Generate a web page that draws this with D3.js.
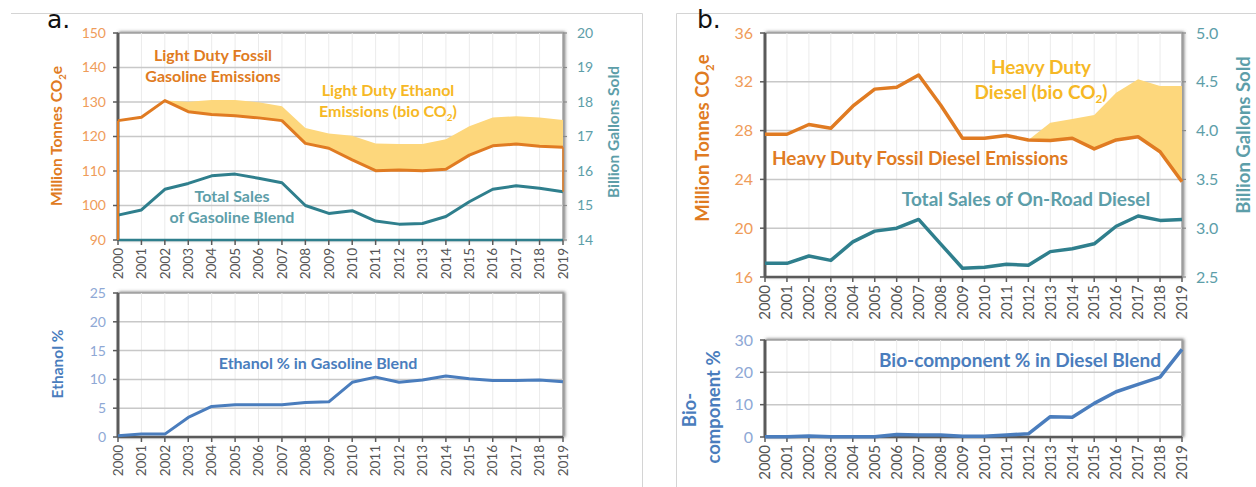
<!DOCTYPE html>
<html>
<head>
<meta charset="utf-8">
<script src="https://cdn.jsdelivr.net/npm/d3@7"></script>
<style>
  body { margin: 0; background: #fff; }
  svg { display: block; font-family: Lato, 'Open Sans', sans-serif; }
</style>
</head>
<body>
<div id="root"></div>
<script>
const W = 1256;
const H = 487;

const ORANGE = '#e07b22';
const ORANGE_LIGHT = '#ef9c5a';
const YELLOW_FILL = '#fdd77c';
const YELLOW_TEXT = '#f6b825';
const TEAL = '#2f7f8d';
const TEAL_LIGHT = '#5d9ea9';
const BLUE = '#4a7dbd';
const BLUE_LIGHT = '#8ea8d5';

// categories
const years = [2000, 2001, 2002, 2003, 2004, 2005, 2006, 2007, 2008, 2009,
  2010, 2011, 2012, 2013, 2014, 2015, 2016, 2017, 2018, 2019];

// panel a: light duty gasoline
const gasFossil = [124.6, 125.6, 130.4, 127.2, 126.4, 126.0, 125.4, 124.6, 118.0, 116.6,
  113.2, 110.1, 110.3, 110.1, 110.5, 114.6, 117.3, 117.8, 117.2, 116.9];
const gasEthanolTop = [124.6, 125.6, 130.4, 130.1, 130.6, 130.6, 129.9, 128.8, 122.5, 120.9,
  120.2, 118.0, 117.8, 117.8, 119.2, 123.0, 125.5, 125.9, 125.5, 124.8];
const gasSales = [14.72, 14.87, 15.47, 15.64, 15.86, 15.91, 15.79, 15.66, 15.0, 14.77,
  14.85, 14.55, 14.46, 14.48, 14.68, 15.11, 15.47, 15.57, 15.50, 15.40];
const ethanolPct = [0.2, 0.5, 0.5, 3.4, 5.3, 5.6, 5.6, 5.6, 6.0, 6.1,
  9.5, 10.4, 9.5, 9.9, 10.6, 10.1, 9.8, 9.8, 9.9, 9.6];

// panel b: heavy duty diesel
const dieselFossil = [27.7, 27.7, 28.5, 28.2, 30.0, 31.4, 31.55, 32.56, 30.1, 27.37,
  27.37, 27.6, 27.23, 27.18, 27.37, 26.5, 27.23, 27.5, 26.27, 23.8];
const dieselBioTop = [null, null, null, null, null, null, null, null, null, null,
  null, null, 27.23, 28.65, 28.95, 29.28, 31.1, 32.2, 31.66, 31.66];
const dieselSales = [2.64, 2.64, 2.715, 2.67, 2.86, 2.97, 3.0, 3.09, 2.84, 2.59,
  2.6, 2.63, 2.62, 2.76, 2.79, 2.84, 3.02, 3.125, 3.08, 3.09];
const bioPct = [0.1, 0.1, 0.3, 0.1, 0.1, 0.1, 0.8, 0.6, 0.6, 0.2,
  0.2, 0.6, 1.0, 6.3, 6.1, 10.4, 14.0, 16.3, 18.5, 27.1];

// tick labels
const gasTicks = [90, 100, 110, 120, 130, 140, 150];
const gasSalesTicks = [14, 15, 16, 17, 18, 19, 20];
const ethanolTicks = [0, 5, 10, 15, 20, 25];
const dieselTicks = [16, 20, 24, 28, 32, 36];
const dieselSalesTicks = [2.5, 3.0, 3.5, 4.0, 4.5, 5.0];
const bioTicks = [0, 10, 20, 30];

const svg = d3.select('#root').append('svg').attr('width', W).attr('height', H);

const defs = svg.append('defs');
defs.append('filter')
  .attr('id', 'shadow')
  .attr('x', '-5%').attr('y', '-10%').attr('width', '110%').attr('height', '120%')
  .append('feDropShadow')
  .attr('dx', 1.5).attr('dy', -0.5).attr('stdDeviation', 1.8)
  .attr('flood-color', '#666').attr('flood-opacity', 0.85);

// panel boxes
svg.append('path').attr('d', 'M11,13.5 H642.5 V487').attr('fill', 'none').attr('stroke', '#d4d4d4');
svg.append('path').attr('d', 'M676.5,487 V13.5 H1256').attr('fill', 'none').attr('stroke', '#d4d4d4');

svg.append('text').attr('x', 47).attr('y', 28).attr('font-family', 'DejaVu Sans')
  .attr('font-size', 25).attr('fill', '#111').text('a.');
svg.append('text').attr('x', 697).attr('y', 28).attr('font-family', 'DejaVu Sans')
  .attr('font-size', 25).attr('fill', '#111').text('b.');

const isSub = (part) => typeof part === 'object';

// one plot area with frame, grid, year axis and left ticks
function addPlot(opts) {
  const g = svg.append('g');
  const x = d3.scalePoint().domain(years).range([opts.x0, opts.x1]);
  const y = d3.scaleLinear().domain(opts.yDomain).range([opts.yBot, opts.yTop]);

  g.append('rect')
    .attr('x', opts.x0).attr('y', opts.yTop)
    .attr('width', opts.x1 - opts.x0).attr('height', opts.yBot - opts.yTop)
    .attr('fill', '#fff').attr('stroke', '#a0a0a0').attr('stroke-width', 1.5)
    .attr('filter', 'url(#shadow)');

  g.append('g').selectAll('line')
    .data(years.slice(1, -1))
    .enter()
    .append('line')
    .attr('x1', (d) => x(d)).attr('x2', (d) => x(d))
    .attr('y1', opts.yTop).attr('y2', opts.yBot)
    .attr('stroke', '#ebebeb').attr('stroke-width', 1);

  g.append('g').selectAll('line')
    .data(opts.ticks.slice(1, -1))
    .enter()
    .append('line')
    .attr('x1', opts.x0).attr('x2', opts.x1)
    .attr('y1', (d) => y(d)).attr('y2', (d) => y(d))
    .attr('stroke', '#c8c8c8').attr('stroke-width', 1.5);

  // left axis
  g.append('line')
    .attr('x1', opts.x0).attr('x2', opts.x0)
    .attr('y1', opts.yTop).attr('y2', opts.yBot)
    .attr('stroke', '#5a5a5a').attr('stroke-width', 3);
  g.append('g').selectAll('line')
    .data(opts.ticks)
    .enter()
    .append('line')
    .attr('x1', opts.x0 - 5).attr('x2', opts.x0)
    .attr('y1', (d) => y(d)).attr('y2', (d) => y(d))
    .attr('stroke', '#5a5a5a').attr('stroke-width', 1.5);
  g.append('g').selectAll('text')
    .data(opts.ticks)
    .enter()
    .append('text')
    .attr('x', opts.x0 - 12).attr('y', (d) => y(d))
    .attr('dy', '0.35em')
    .attr('text-anchor', 'end')
    .attr('font-size', opts.tickSize)
    .attr('fill', opts.tickColor)
    .text((d) => (opts.tickFormat ? opts.tickFormat(d) : d));

  // bottom axis
  g.append('line')
    .attr('x1', opts.x0).attr('x2', opts.x1)
    .attr('y1', opts.yBot).attr('y2', opts.yBot)
    .attr('stroke', opts.baseColor || '#5a5a5a').attr('stroke-width', 2.5);
  g.append('g').selectAll('line')
    .data(years)
    .enter()
    .append('line')
    .attr('x1', (d) => x(d)).attr('x2', (d) => x(d))
    .attr('y1', opts.yBot).attr('y2', opts.yBot + 5)
    .attr('stroke', '#5a5a5a').attr('stroke-width', 1.5);
  g.append('g').selectAll('text')
    .data(years)
    .enter()
    .append('text')
    .attr('transform', (d) => `translate(${x(d)},${opts.yBot + 8}) rotate(-90)`)
    .attr('dy', '0.35em')
    .attr('text-anchor', 'end')
    .attr('font-size', opts.yearSize)
    .attr('fill', '#555')
    .text((d) => d);

  return { g, x, y };
}

function addRightAxis(plot, opts) {
  const y2 = d3.scaleLinear().domain(opts.domain).range([opts.yBot, opts.yTop]);
  plot.g.append('g').selectAll('line')
    .data(opts.ticks)
    .enter()
    .append('line')
    .attr('x1', opts.x1).attr('x2', opts.x1 + 4)
    .attr('y1', (d) => y2(d)).attr('y2', (d) => y2(d))
    .attr('stroke', '#8a8a8a').attr('stroke-width', 1.2);
  plot.g.append('g').selectAll('text')
    .data(opts.ticks)
    .enter()
    .append('text')
    .attr('x', opts.x1 + 14).attr('y', (d) => y2(d))
    .attr('dy', '0.35em')
    .attr('font-size', opts.tickSize)
    .attr('fill', opts.tickColor)
    .text((d) => (opts.tickFormat ? opts.tickFormat(d) : d));
  return y2;
}

function addLine(plot, values, yScale, color, width) {
  const line = d3.line()
    .defined((d) => d != null)
    .x((d, i) => plot.x(years[i]))
    .y((d) => yScale(d));
  plot.g.append('path')
    .datum(values)
    .attr('d', line)
    .attr('fill', 'none')
    .attr('stroke', color)
    .attr('stroke-width', width)
    .attr('stroke-linejoin', 'round');
}

function addBand(plot, low, high, yScale) {
  const idx = years.map((d, i) => i).filter((i) => high[i] != null);
  const area = d3.area()
    .x((i) => plot.x(years[i]))
    .y0((i) => yScale(low[i]))
    .y1((i) => yScale(high[i]));
  plot.g.append('path')
    .datum(idx)
    .attr('d', area)
    .attr('fill', YELLOW_FILL);
}

// plain strings plus {sub: '2'} pieces for subscripts
function appendParts(el, parts, size) {
  const shift = size * 0.22;
  let lowered = false;
  parts.forEach((part) => {
    if (isSub(part)) {
      el.append('tspan').attr('font-size', size * 0.62).attr('dy', shift).text(part.sub);
      lowered = true;
    } else {
      const span = el.append('tspan').text(part);
      if (lowered) span.attr('dy', -shift);
      lowered = false;
    }
  });
}

function addLabel(x, y, lines, color, size) {
  const t = svg.append('text')
    .attr('x', x).attr('y', y)
    .attr('text-anchor', 'middle')
    .attr('font-size', size)
    .attr('font-weight', 'bold')
    .attr('fill', color);
  lines.forEach((ln, k) => {
    const span = t.append('tspan').attr('x', x).attr('y', y + k * size * 1.33);
    appendParts(span, ln, size);
  });
  return t;
}

function addVerticalTitle(x, y, parts, color, size) {
  const t = svg.append('text')
    .attr('transform', `translate(${x},${y}) rotate(-90)`)
    .attr('text-anchor', 'middle')
    .attr('dy', '0.35em')
    .attr('font-size', size)
    .attr('font-weight', 'bold')
    .attr('fill', color);
  appendParts(t, parts, size);
}

// ---------- panel a, emissions ----------
const aTop = addPlot({
  x0: 118, x1: 563, yTop: 33, yBot: 240,
  yDomain: [90, 150], ticks: gasTicks,
  tickSize: 14, tickColor: ORANGE_LIGHT, yearSize: 13.5, baseColor: TEAL,
});
const aSalesY = addRightAxis(aTop, {
  x1: 563, yTop: 33, yBot: 240, domain: [14, 20], ticks: gasSalesTicks,
  tickSize: 14, tickColor: TEAL_LIGHT,
});
addBand(aTop, gasFossil, gasEthanolTop, aTop.y);
addLine(aTop, gasSales, aSalesY, TEAL, 3);
// fossil line, with its edges dropping down at both ends
aTop.g.append('line')
  .attr('x1', aTop.x(years[0])).attr('x2', aTop.x(years[0]))
  .attr('y1', aTop.y(gasFossil[0])).attr('y2', aTop.y(90))
  .attr('stroke', ORANGE).attr('stroke-width', 2);
aTop.g.append('line')
  .attr('x1', aTop.x(years[19])).attr('x2', aTop.x(years[19]))
  .attr('y1', aTop.y(gasFossil[19])).attr('y2', aSalesY(gasSales[19]))
  .attr('stroke', ORANGE).attr('stroke-width', 1.5);
addLine(aTop, gasFossil, aTop.y, ORANGE, 3);

addLabel(213, 61, [['Light Duty Fossil'], ['Gasoline Emissions']], ORANGE, 16);
addLabel(388, 96, [['Light Duty Ethanol'], ['Emissions (bio CO', { sub: '2' }, ')']], YELLOW_TEXT, 16);
addLabel(232, 202, [['Total Sales'], ['of Gasoline Blend']], TEAL_LIGHT, 16);
addVerticalTitle(57, 136, ['Million Tonnes CO', { sub: '2' }, 'e'], ORANGE, 15.5);
addVerticalTitle(614, 132, ['Billion Gallons Sold'], TEAL_LIGHT, 15.5);

// ---------- panel a, ethanol share ----------
const aBot = addPlot({
  x0: 118, x1: 563, yTop: 293, yBot: 437,
  yDomain: [0, 25], ticks: ethanolTicks,
  tickSize: 14, tickColor: BLUE_LIGHT, yearSize: 13.5,
});
addLine(aBot, ethanolPct, aBot.y, BLUE, 3);
addLabel(318, 369, [['Ethanol % in Gasoline Blend']], BLUE, 16);
addVerticalTitle(58, 364, ['Ethanol %'], BLUE, 15.5);

// ---------- panel b, emissions ----------
const bTop = addPlot({
  x0: 765, x1: 1182, yTop: 33, yBot: 277,
  yDomain: [16, 36], ticks: dieselTicks,
  tickSize: 16, tickColor: ORANGE_LIGHT, yearSize: 15,
});
const bSalesY = addRightAxis(bTop, {
  x1: 1182, yTop: 33, yBot: 277, domain: [2.5, 5.0], ticks: dieselSalesTicks,
  tickSize: 16, tickColor: TEAL_LIGHT, tickFormat: d3.format('.1f'),
});
addBand(bTop, dieselFossil, dieselBioTop, bTop.y);
addLine(bTop, dieselSales, bSalesY, TEAL, 3.5);
addLine(bTop, dieselFossil, bTop.y, ORANGE, 3.5);

addLabel(1041, 74, [['Heavy Duty'], ['Diesel (bio CO', { sub: '2' }, ')']], YELLOW_TEXT, 19);
addLabel(920, 165, [['Heavy Duty Fossil Diesel Emissions']], ORANGE, 19);
addLabel(1026, 206, [['Total Sales of On-Road Diesel']], TEAL_LIGHT, 19);
addVerticalTitle(703, 138, ['Million Tonnes CO', { sub: '2' }, 'e'], ORANGE, 18.5);
addVerticalTitle(1244, 135, ['Billion Gallons Sold'], TEAL_LIGHT, 18.5);

// ---------- panel b, bio-component share ----------
const bBot = addPlot({
  x0: 765, x1: 1182, yTop: 340, yBot: 437,
  yDomain: [0, 30], ticks: bioTicks,
  tickSize: 16, tickColor: BLUE_LIGHT, yearSize: 15,
});
addLine(bBot, bioPct, bBot.y, BLUE, 3.5);
addLabel(1020, 367, [['Bio-component % in Diesel Blend']], BLUE, 19);
addVerticalTitle(690, 410, ['Bio-'], BLUE, 18.5);
addVerticalTitle(714, 407, ['component %'], BLUE, 18.5);
</script>
</body>
</html>
